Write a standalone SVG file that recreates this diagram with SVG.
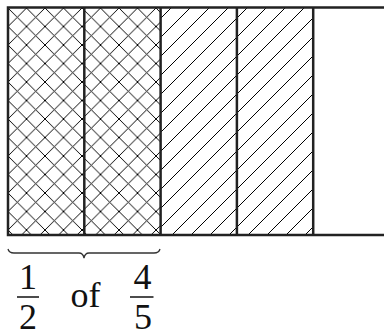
<svg xmlns="http://www.w3.org/2000/svg" width="384" height="336" viewBox="0 0 384 336">
<style>
.frame{fill:none;stroke:#222;stroke-width:2.5}
.div{stroke:#222;stroke-width:2.5}
.bar{stroke:#111;stroke-width:1.5}
.brace{fill:none;stroke:#333;stroke-width:1.3}
.t{font-family:"Liberation Serif","Times New Roman",serif;font-size:36px;fill:#111}
.pl{stroke:#000;stroke-width:1.3;shape-rendering:crispEdges;fill:none}
</style>
<defs>
<pattern id="cross" patternUnits="userSpaceOnUse" x="8" y="8" width="18.5" height="18.5">
<path class="pl" d="M0,0L18.5,18.5M18.5,0L0,18.5"/>
</pattern>
<pattern id="hatch" patternUnits="userSpaceOnUse" x="0" y="8" width="19" height="19">
<path class="pl" d="M0,19L19,0M-4,4L4,-4M15,23L23,15"/>
</pattern>
</defs>
<g id="shading">
<rect x="8" y="8" width="152.5" height="227" fill="url(#cross)"/>
<rect x="160.5" y="8" width="152.5" height="227" fill="url(#hatch)"/>
</g>
<g id="grid">
<path class="frame" d="M390,7.5H8V235H390"/>
<line class="div" x1="84.3" y1="7.5" x2="84.3" y2="235"/>
<line class="div" x1="160.6" y1="7.5" x2="160.6" y2="235"/>
<line class="div" x1="236.9" y1="7.5" x2="236.9" y2="235"/>
<line class="div" x1="313.2" y1="7.5" x2="313.2" y2="235"/>
</g>
<g id="brace">
<path class="brace" d="M8,249Q9,253 14,253H79Q83,253 84,258Q85,253 89,253H154Q159,253 160,249"/>
</g>
<g id="labels">
<text class="t" x="28" y="288.5" text-anchor="middle">1</text>
<line class="bar" x1="17" y1="297" x2="39" y2="297"/>
<text class="t" x="28" y="328.5" text-anchor="middle">2</text>
<text class="t" x="70.5" y="306.5">of</text>
<text class="t" x="142.5" y="288.5" text-anchor="middle">4</text>
<line class="bar" x1="130" y1="297" x2="153.5" y2="297"/>
<text class="t" x="143" y="328.5" text-anchor="middle">5</text>
</g>
</svg>
